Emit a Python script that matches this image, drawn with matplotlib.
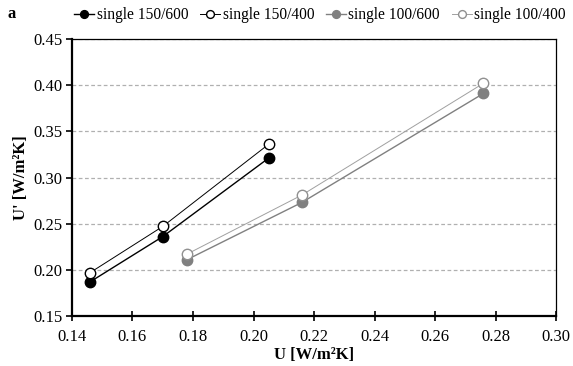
import matplotlib
matplotlib.use("Agg")
import matplotlib.pyplot as plt

plt.rcParams['font.family'] = ['Liberation Serif', 'DejaVu Serif']

u_150 = [0.146, 0.170, 0.205]
s150_600 = [0.187, 0.236, 0.321]
s150_400 = [0.197, 0.247, 0.336]
u_100 = [0.178, 0.216, 0.276]
s100_600 = [0.211, 0.273, 0.391]
s100_400 = [0.217, 0.281, 0.402]

labels = ["single 150/600", "single 150/400", "single 100/600", "single 100/400"]
xticks = [0.14, 0.16, 0.18, 0.20, 0.22, 0.24, 0.26, 0.28, 0.30]
yticks = [0.15, 0.20, 0.25, 0.30, 0.35, 0.40, 0.45]

fig = plt.figure(figsize=(5.73, 3.66), dpi=100)
ax = fig.add_axes([72/573, 1-316/366, (556-72)/573, (316-39)/366])

ms = 7.5
ax.plot(u_150, s150_600, color='black', lw=1.0, marker='o', ms=ms, mfc='black', mec='black', label=labels[0], zorder=3)
ax.plot(u_150, s150_400, color='black', lw=0.7, marker='o', ms=ms, mfc='white', mec='black', label=labels[1], zorder=3)
ax.plot(u_100, s100_600, color='#808080', lw=1.0, marker='o', ms=ms, mfc='#808080', mec='#808080', label=labels[2], zorder=3)
ax.plot(u_100, s100_400, color='#a0a0a0', lw=0.7, marker='o', ms=ms, mfc='white', mec='#909090', label=labels[3], zorder=3)

ax.set_xlim(0.14, 0.30)
ax.set_ylim(0.15, 0.45)
ax.set_xticks(xticks)
ax.set_yticks(yticks)
ax.set_xticklabels([f"{v:.2f}" for v in xticks])
ax.set_yticklabels([f"{v:.2f}" for v in yticks])
ax.tick_params(axis='both', labelsize=12, width=1.2, color='black')
ax.tick_params(axis='x', direction='inout', length=7, pad=6)
ax.tick_params(axis='y', direction='out', length=4, pad=3)
ax.yaxis.grid(True, linestyle=(0, (3, 2)), color='#b0b0b0', lw=0.9)
ax.set_axisbelow(True)
for s in ['top', 'right']:
    ax.spines[s].set_linewidth(0.9)
for s in ['left', 'bottom']:
    ax.spines[s].set_linewidth(1.6)

ax.set_xlabel("U [W/m²K]", fontsize=12, fontweight='bold', labelpad=1)
ax.set_ylabel("U' [W/m²K]", fontsize=12, fontweight='bold', labelpad=3)

fig.text(7/573, 1-14/366, "a", fontsize=12, fontweight='bold', va='center')
leg = fig.legend(loc='center', bbox_to_anchor=(320/573, 1-15/366), ncol=4, frameon=False,
                 fontsize=11.2, handlelength=1.3, handletextpad=0.15, columnspacing=0.75,
                 markerscale=0.75)

fig.savefig("out.png", dpi=100)
